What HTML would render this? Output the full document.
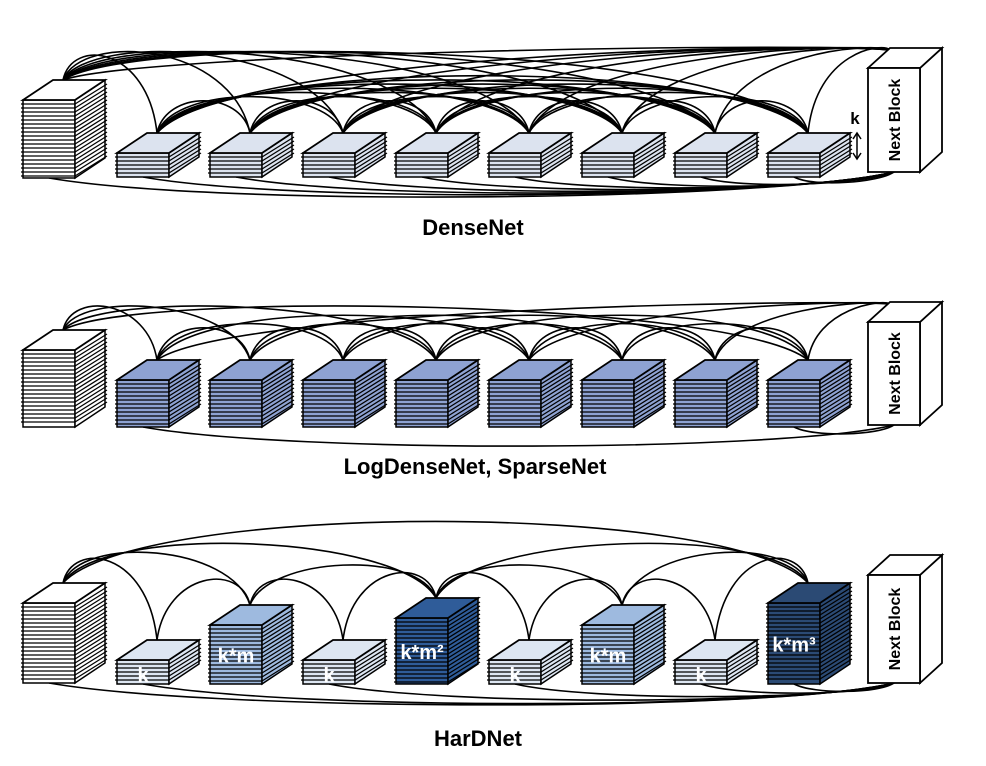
<!DOCTYPE html>
<html><head><meta charset="utf-8"><style>
html,body{margin:0;padding:0;background:#fff;width:986px;height:766px;overflow:hidden}
svg{display:block}
text{font-family:"Liberation Sans",sans-serif;font-weight:bold}
</style></head><body>
<svg id="s" width="986" height="766" viewBox="0 0 986 766" xmlns="http://www.w3.org/2000/svg">
<g id="arcs" fill="none" stroke="#000" stroke-width="1.6"></g>
<g id="blocks"></g>
<g id="labels">
<text x="473" y="235" font-size="22" text-anchor="middle">DenseNet</text>
<text x="475" y="474" font-size="22" text-anchor="middle">LogDenseNet, SparseNet</text>
<text x="478" y="746" font-size="22" text-anchor="middle">HarDNet</text>
<text x="855" y="124" font-size="17" text-anchor="middle">k</text>
<line x1="857" y1="134" x2="857" y2="158" stroke="#000" stroke-width="1.5"/>
<path d="M853,139 L857,133 L861,139 M853,153 L857,159 L861,153" fill="none" stroke="#000" stroke-width="1.5"/>
</g>
<g id="txt"></g>
</svg>
<script>
(function(){
var NS="http://www.w3.org/2000/svg";
var A=document.getElementById('arcs'),B=document.getElementById('blocks'),T=document.getElementById('txt');
function el(p,t,a){var e=document.createElementNS(NS,t);for(var k in a)e.setAttribute(k,a[k]);p.appendChild(e);return e;}
var W=52,DX=30,DY=20;
function stack(x,yt,yb,col){
 var g=el(B,'g',{});
 el(g,'rect',{x:x,y:yt,width:W,height:yb-yt,fill:col,stroke:'#000','stroke-width':1.5});
 el(g,'polygon',{points:(x+W)+','+yt+' '+(x+W+DX)+','+(yt-DY)+' '+(x+W+DX)+','+(yb-DY)+' '+(x+W)+','+yb,fill:col,stroke:'#000','stroke-width':1.5});
 for(var y=yt+4;y<yb-1;y+=4){
  el(g,'line',{x1:x-2,y1:y,x2:x+W,y2:y,stroke:'#000','stroke-width':1.3});
  el(g,'line',{x1:x+W,y1:y,x2:x+W+DX+2,y2:y-DY,stroke:'#000','stroke-width':1.3});
 }
 el(g,'polygon',{points:x+','+yt+' '+(x+DX)+','+(yt-DY)+' '+(x+W+DX)+','+(yt-DY)+' '+(x+W)+','+yt,fill:col,stroke:'#000','stroke-width':1.8});
}
function nextB(x,yt,yb){
 var g=el(B,'g',{});
 el(g,'polygon',{points:(x+W)+','+yt+' '+(x+W+22)+','+(yt-20)+' '+(x+W+22)+','+(yb-20)+' '+(x+W)+','+yb,fill:'#fff',stroke:'#000','stroke-width':1.8});
 el(g,'polygon',{points:x+','+yt+' '+(x+22)+','+(yt-20)+' '+(x+W+22)+','+(yt-20)+' '+(x+W)+','+yt,fill:'#fff',stroke:'#000','stroke-width':1.8});
 el(g,'rect',{x:x,y:yt,width:W,height:yb-yt,fill:'#fff',stroke:'#000','stroke-width':1.8});
}
function arcTop(a,b,minY){
 var d=b[0]-a[0];
 var m=Math.min(a[1],b[1]);
 var rise=28+d*0.045;
 if(m-rise<minY)rise=m-minY;
 var h=rise/0.75;
 var c1=Math.min(a[1],m+10)-h, c2=Math.min(b[1],m+10)-h;
 el(A,'path',{d:'M'+a[0]+','+a[1]+' C'+(a[0]+d*0.1)+','+c1+' '+(b[0]-d*0.1)+','+c2+' '+b[0]+','+b[1]});
}
function arcBot(a,b){
 var d=b[0]-a[0],H=8+d*0.025;
 el(A,'path',{d:'M'+a[0]+','+a[1]+' C'+(a[0]+d*0.2)+','+(a[1]+H)+' '+(b[0]-d*0.15)+','+(b[1]+H)+' '+b[0]+','+b[1]});
}
var XS=[117,210,303,396,489,582,675,768];
// DenseNet
stack(23,100,178,'#fff');
var dN=[[23,100,178]];
XS.forEach(function(x){stack(x,153,177,'#dce3ef');dN.push([x,153,177]);});
nextB(868,68,172);
var dp=dN.map(function(n){return [n[0]+40,n[1]-DY];});dp.push([890,50]);
for(var i=0;i<dp.length;i++)for(var j=i+1;j<dp.length;j++)arcTop(dp[i],dp[j],44);
dN.forEach(function(n){arcBot([n[0]+26,n[2]],[894,172]);});
// LogDenseNet
stack(23,350,427,'#fff');
var lN=[[23,350,427]];
XS.forEach(function(x){stack(x,380,427,'#8ea2d2');lN.push([x,380,427]);});
nextB(868,322,425);
var lp=lN.map(function(n){return [n[0]+40,n[1]-DY];});lp.push([890,304]);
for(var j2=1;j2<lp.length;j2++)[1,2,4,8].forEach(function(o){if(j2-o>=0)arcTop(lp[j2-o],lp[j2],300);});
[1,8].forEach(function(i){arcBot([lN[i][0]+26,lN[i][2]],[894,425]);});
// HarDNet
stack(23,603,683,'#fff');
var hs=[[660,'#dde6f2','k'],[625,'#9ebadf','k*m'],[660,'#dde6f2','k'],[618,'#2f5c99','k*m²'],[660,'#dde6f2','k'],[625,'#9ebadf','k*m'],[660,'#dde6f2','k'],[603,'#2b4a74','k*m³']];
var hN=[[23,603,683]];
hs.forEach(function(h,i){var x=XS[i];stack(x,h[0],684,h[1]);hN.push([x,h[0],684]);
 var t=el(T,'text',{x:x+26,y:(h[0]+684)/2+8+(h[2]=='k'?2:0),'font-size':20,fill:'#fff','text-anchor':'middle'});t.textContent=h[2];});
nextB(868,575,683);
var hp=hN.map(function(n){return [n[0]+40,n[1]-DY];});
for(var l=1;l<=8;l++)for(var p=1;p<=8;p*=2){if(l%p==0&&l-p>=0)arcTop(hp[l-p],hp[l],512);}
[0,1,3,5,7,8].forEach(function(i){arcBot([hN[i][0]+26,hN[i][2]],[894,683]);});
// Next Block labels
[[868,68,172],[868,322,425],[868,575,683]].forEach(function(n){
 var cx=n[0]+W/2+6,cy=(n[1]+n[2])/2;
 var t=el(T,'text',{x:cx,y:cy,'font-size':16,'text-anchor':'middle',transform:'rotate(-90 '+cx+' '+cy+')'});t.textContent='Next Block';
});
})();
</script>
</body></html>
